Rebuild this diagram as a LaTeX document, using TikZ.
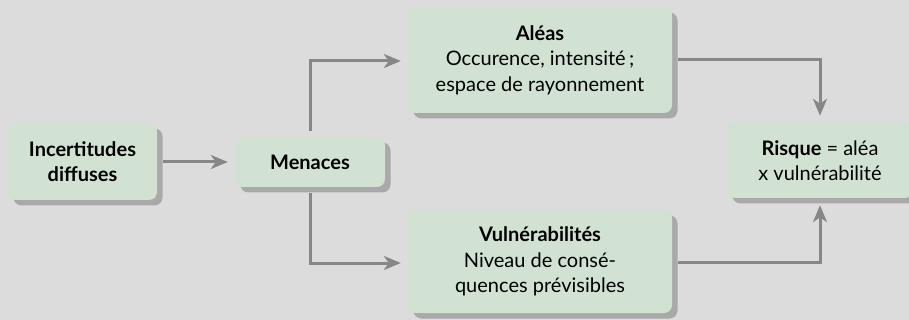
\documentclass[tikz,border=0pt]{standalone}
\usepackage{fontspec}
\setmainfont{Lato}
\usetikzlibrary{arrows.meta,calc}
\definecolor{bgcol}{HTML}{DCDCDC}
\definecolor{boxcol}{HTML}{D1E2D3}
\definecolor{shadecol}{HTML}{A9A9A9}
\definecolor{linecol}{HTML}{878787}
\begin{document}
\begin{tikzpicture}[x=1pt,y=-1pt,
  card/.style={rounded corners=8pt, fill=boxcol, inner sep=0pt, align=center,
    font=\fontsize{20pt}{25.5pt}\selectfont,
    preaction={fill=shadecol, transform canvas={shift={(5.5pt,-5.5pt)}}}},
  flow/.style={draw=linecol, line width=3pt,
    -{Stealth[length=17pt,width=14pt,inset=5pt]},
    shorten <=6pt, shorten >=7pt}]
  \useasboundingbox[fill=bgcol] (0,0) rectangle (909,320);
  \node[card, minimum width=149pt, minimum height=77pt] (inc) at (82.5,161.5)
    {\textbf{Incertitudes}\\\textbf{diffuses}};
  \node[card, minimum width=150pt, minimum height=50pt] (men) at (310,162)
    {\textbf{Menaces}};
  \node[card, minimum width=264pt, minimum height=106pt] (ale) at (540,60)
    {\textbf{Aléas}\\Occurence, intensité\,;\\espace de rayonnement};
  \node[card, minimum width=264pt, minimum height=103pt] (vul) at (540,261.5)
    {\textbf{Vulnérabilités}\\Niveau de consé-\\quences prévisibles};
  \node[card, minimum width=186pt, minimum height=75pt] (ris) at (820,160.5)
    {\textbf{Risque} = aléa\\x vulnérabilité};
  \draw[flow] (inc.east |- 0,162) -- (men.west |- 0,162);
  \draw[flow] (men.north) |- (ale.west |- 0,61);
  \draw[flow] (men.south) |- (vul.west |- 0,263);
  \draw[flow] (ale.east |- 0,60) -| (ris.north);
  \draw[flow] (vul.east |- 0,262) -| (ris.south);
\end{tikzpicture}
\end{document}
